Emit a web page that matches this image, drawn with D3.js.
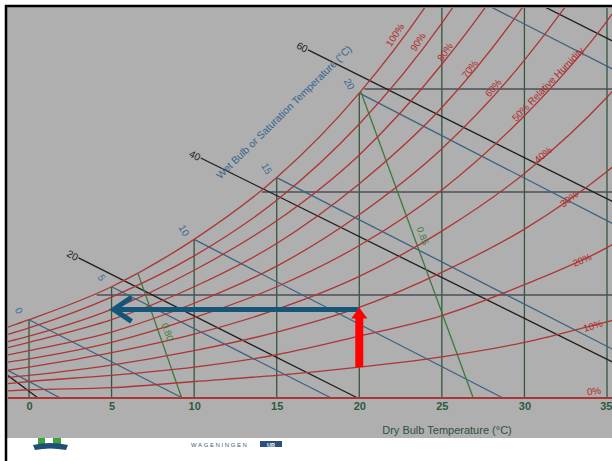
<!DOCTYPE html>
<html><head><meta charset="utf-8">
<script src="https://cdn.jsdelivr.net/npm/d3@7/dist/d3.min.js"></script>
<style>body{margin:0;background:#fff}svg{display:block}</style>
</head><body>
<svg id="c" width="612" height="461"></svg>
<script>
// ---------- DATA (dry bulb °C, humidity ratio g/kg) ----------
const tempGrid = [-2.5, 0, 5, 10, 15, 20, 25, 30, 35, 37.5];
const rh100 = [3.1, 3.8, 5.4, 7.7, 10.7, 14.8, 20.2, 27.3, 36.6, 42.3];
const rh90  = [2.8, 3.4, 4.9, 6.9, 9.6, 13.3, 18.2, 24.6, 32.9, 38.1];
const rh80  = [2.5, 3.0, 4.3, 6.2, 8.6, 11.8, 16.2, 21.8, 29.3, 33.8];
const rh70  = [2.2, 2.7, 3.8, 5.4, 7.5, 10.4, 14.1, 19.1, 25.6, 29.6];
const rh60  = [1.9, 2.3, 3.2, 4.6, 6.4, 8.9, 12.1, 16.4, 22.0, 25.4];
const rh50  = [1.6, 1.9, 2.7, 3.9, 5.4, 7.4, 10.1, 13.7, 18.3, 21.2];
const rh40  = [1.2, 1.5, 2.2, 3.1, 4.3, 5.9, 8.1, 10.9, 14.6, 16.9];
const rh30  = [0.9, 1.1, 1.6, 2.3, 3.2, 4.4, 6.1, 8.2, 11.0, 12.7];
const rh20  = [0.6, 0.8, 1.1, 1.5, 2.1, 3.0, 4.0, 5.5, 7.3, 8.5];
const rh10  = [0.3, 0.4, 0.5, 0.8, 1.1, 1.5, 2.0, 2.7, 3.7, 4.2];
const rh0   = [0, 0, 0, 0, 0, 0, 0, 0, 0, 0];
const rhLevels = ["100%", "90%", "80%", "70%", "60%", "50% Relative Humidity", "40%", "30%", "20%", "10%", "0%"];
const rhSeries = [rh100, rh90, rh80, rh70, rh60, rh50, rh40, rh30, rh20, rh10, rh0];

const dryBulbTicks = [0, 5, 10, 15, 20, 25, 30, 35];
const satAtTicks   = [3.8, 5.4, 7.7, 10.7, 14.8, 20.2, 27.3, 36.6];

const wetBulbLabels = ["", "0", "5", "10", "15", "20", ""];
const wetBulbStart  = [[-2.5, 1.85], [0, 3.8], [5, 5.4], [10, 7.7], [15, 10.7], [20, 14.8], [25, 20.2]];
const wetBulbEnd    = [[1.9, 0], [9.3, 0], [18.3, 0], [28.7, 0], [36, 2.1], [36, 8.2], [36, 15.7]];

const enthalpyLabels = ["", "20", "40", "60", ""];
const enthalpyStart  = [[-2.5, 1.82], [3.0, 6.8], [10.4, 11.65], [16.9, 16.9], [25, 21.5]];
const enthalpyEnd    = [[0.55, 0], [19.9, 0], [36, 1.48], [36, 9.27], [36, 17.06]];

const volumeLabels = ["0.80", "0.85"];
const volumeStart  = [[6.6, 6.05], [20.1, 14.85]];
const volumeEnd    = [[9.25, 0], [26.9, 0]];

const humidityLevels = [5, 10, 15];
const humidityDewPoint = [4.1, 14.1, 20.3];

const processStart = [20, 1.5];
const processState = [20, 4.3];
const processTarget = [5, 4.3];

// label anchors in data units (T, W)
const rhLabelPos = [[22.16, 17.62], [23.56, 17.28], [25.19, 16.8], [26.7, 15.97], [28.1, 15.05],
                    [31.43, 15.24], [31.12, 11.8], [32.7, 9.66], [33.49, 6.7], [34.15, 3.5], [34.21, 0.34]];
const rhLabelAngle = [-57, -57, -56, -53, -50, -46, -40, -37, -24, -17, -8];
const wetBulbTitlePos = [15.44, 13.88];

// ---------- DRAW ----------
const svg = d3.select("#c");
const x = d3.scaleLinear().domain([0, 35]).range([29, 607]);
const y = d3.scaleLinear().domain([0, 15]).range([398, 89]);
const font = "'Liberation Sans', Arial, sans-serif";

svg.append("rect").attr("x", 7).attr("y", 7).attr("width", 605).attr("height", 431).attr("fill", "#afafaf");
svg.append("path").attr("d", "M6,461V6H612").attr("fill", "none").attr("stroke", "#000").attr("stroke-width", 2.5);

svg.append("clipPath").attr("id", "clip").append("rect")
  .attr("x", 8).attr("y", 8).attr("width", 604).attr("height", 392);
const g = svg.append("g").attr("clip-path", "url(#clip)");

// dry bulb verticals
g.selectAll(".db").data(dryBulbTicks).join("line")
  .attr("x1", d => x(d)).attr("x2", d => x(d))
  .attr("y1", y(0)).attr("y2", (d, i) => y(satAtTicks[i]))
  .attr("stroke", "#32573d").attr("stroke-width", 1.3);

// humidity ratio horizontals
g.selectAll(".hr").data(humidityLevels).join("line")
  .attr("x1", (d, i) => x(humidityDewPoint[i])).attr("x2", x(36))
  .attr("y1", d => y(d)).attr("y2", d => y(d))
  .attr("stroke", "#4c4f58").attr("stroke-width", 1.4);

// wet bulb lines
g.selectAll(".wb").data(wetBulbStart).join("line")
  .attr("x1", d => x(d[0])).attr("y1", d => y(d[1]))
  .attr("x2", (d, i) => x(wetBulbEnd[i][0])).attr("y2", (d, i) => y(wetBulbEnd[i][1]))
  .attr("stroke", "#3b6282").attr("stroke-width", 1.3);

// enthalpy lines
g.selectAll(".en").data(enthalpyStart).join("line")
  .attr("x1", d => x(d[0])).attr("y1", d => y(d[1]))
  .attr("x2", (d, i) => x(enthalpyEnd[i][0])).attr("y2", (d, i) => y(enthalpyEnd[i][1]))
  .attr("stroke", "#1e1e1e").attr("stroke-width", 1.3);

// specific volume lines
g.selectAll(".sv").data(volumeStart).join("line")
  .attr("x1", d => x(d[0])).attr("y1", d => y(d[1]))
  .attr("x2", (d, i) => x(volumeEnd[i][0])).attr("y2", (d, i) => y(volumeEnd[i][1]))
  .attr("stroke", "#3c7a3c").attr("stroke-width", 1.3);

// RH curves
const line = d3.line().x((d, i) => x(tempGrid[i])).y(d => y(d)).curve(d3.curveMonotoneX);
g.selectAll(".rh").data(rhSeries).join("path")
  .attr("d", line).attr("fill", "none")
  .attr("stroke", "#ad3535").attr("stroke-width", (d, i) => i === rhSeries.length - 1 ? 2 : 1.3);

// RH labels
svg.selectAll(".rhl").data(rhLevels).join("text")
  .attr("transform", (d, i) => `translate(${x(rhLabelPos[i][0])},${y(rhLabelPos[i][1])}) rotate(${rhLabelAngle[i]})`)
  .attr("text-anchor", "middle").attr("dy", "0.35em")
  .attr("font-family", font).attr("font-size", 9.8).attr("fill", "#b02a2a")
  .text(d => d);

// wet bulb labels
svg.selectAll(".wbl").data(wetBulbLabels).join("text")
  .attr("transform", (d, i) => `translate(${x(wetBulbStart[i][0]) - 10},${y(wetBulbStart[i][1]) - 9}) rotate(60)`)
  .attr("text-anchor", "middle").attr("dy", "0.35em")
  .attr("font-family", font).attr("font-size", 10).attr("fill", "#3a6a96")
  .text(d => d);

svg.append("text")
  .attr("transform", `translate(${x(wetBulbTitlePos[0])},${y(wetBulbTitlePos[1])}) rotate(-44.5)`)
  .attr("text-anchor", "middle").attr("dy", "0.35em")
  .attr("font-family", font).attr("font-size", 10.3).attr("fill", "#34648f")
  .text("Wet Bulb or Saturation Temperature (°C)");

// enthalpy labels
svg.selectAll(".enl").data(enthalpyLabels).join("text")
  .attr("transform", (d, i) => `translate(${x(enthalpyStart[i][0]) - 1},${y(enthalpyStart[i][1])}) rotate(28)`)
  .attr("text-anchor", "end").attr("dy", "0.35em")
  .attr("font-family", font).attr("font-size", 10).attr("fill", "#1a1a1a")
  .text(d => d);

// specific volume labels
svg.selectAll(".svl").data(volumeLabels).join("text")
  .attr("transform", (d, i) => {
    const px = x(volumeStart[i][0] + (volumeEnd[i][0] - volumeStart[i][0]) * 0.47) + 9;
    const py = y(volumeStart[i][1] + (volumeEnd[i][1] - volumeStart[i][1]) * 0.47);
    return `translate(${px},${py}) rotate(70)`;
  })
  .attr("text-anchor", "middle").attr("dy", "0.35em")
  .attr("font-family", font).attr("font-size", 9.5).attr("fill", "#3a7d3a")
  .text(d => d);

// x axis
const ax = svg.append("g").attr("transform", `translate(0,${y(0)})`)
  .call(d3.axisBottom(x).tickValues(dryBulbTicks).tickSize(0).tickPadding(4).tickFormat(d3.format("d")));
ax.select(".domain").remove();
ax.selectAll("text").attr("font-family", font).attr("font-size", 11).attr("font-weight", "bold").attr("fill", "#2e5a3c");
ax.selectAll(".tick").filter(d => d === 35).select("text").attr("text-anchor", "end").attr("x", 5);

svg.append("text").attr("x", 447).attr("y", 434).attr("text-anchor", "middle")
  .attr("font-family", font).attr("font-size", 11).attr("fill", "#2e5040")
  .text("Dry Bulb Temperature (°C)");

// process arrows
const by = y(processTarget[1]);
const tipX = x(processTarget[0]);
svg.append("line").attr("x1", x(processState[0]) - 1).attr("x2", tipX + 3)
  .attr("y1", by).attr("y2", by).attr("stroke", "#155577").attr("stroke-width", 5);
svg.append("path").attr("d", `M${tipX + 20},${by - 12}L${tipX + 2},${by}L${tipX + 20},${by + 12}`)
  .attr("fill", "none").attr("stroke", "#155577").attr("stroke-width", 5).attr("stroke-linejoin", "miter");

const rx = x(processStart[0]);
const ry0 = y(processStart[1]);
const ryTip = y(processState[1]);
svg.append("rect").attr("x", rx - 4).attr("width", 8).attr("y", ryTip + 8).attr("height", ry0 - ryTip - 8).attr("fill", "#ff0000");
svg.append("path").attr("d", `M${rx},${ryTip - 2}L${rx + 8},${ryTip + 9}L${rx - 8},${ryTip + 9}Z`).attr("fill", "#ff0000");

// footer logos
const foot = svg.append("g");
foot.append("rect").attr("x", 38).attr("y", 438).attr("width", 7).attr("height", 7).attr("fill", "#3aa43a");
foot.append("rect").attr("x", 53).attr("y", 438).attr("width", 8).attr("height", 7).attr("fill", "#3aa43a");
foot.append("path").attr("d", "M33,445 Q50,441 68,445 L66,450 Q50,447 35,450 Z").attr("fill", "#1f4e78");
foot.append("text").attr("x", 191).attr("y", 447).attr("font-family", font).attr("font-size", 6)
  .attr("letter-spacing", 1.6).attr("fill", "#3c5a7a").text("WAGENINGEN");
foot.append("rect").attr("x", 260).attr("y", 441).attr("width", 22).attr("height", 6).attr("fill", "#2b4f7e");
foot.append("text").attr("x", 271).attr("y", 446.5).attr("text-anchor", "middle").attr("font-family", font)
  .attr("font-size", 5.5).attr("font-weight", "bold").attr("fill", "#fff").text("UR");
</script>
</body></html>
